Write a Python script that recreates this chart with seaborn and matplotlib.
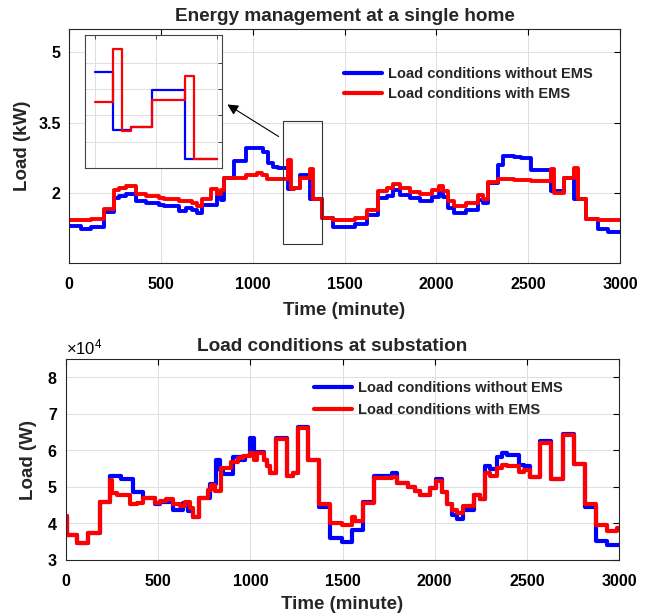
import numpy as np
import pandas as pd
import matplotlib
matplotlib.use("Agg")
import matplotlib.pyplot as plt
import seaborn as sns
from matplotlib.patches import Rectangle
from matplotlib.ticker import FormatStrFormatter

# ---------------- data (step functions: start time of each step, value) -------------
# Single home, kW
home_t_noems = [0, 64, 118, 190, 245, 272, 308, 363, 417, 490, 517, 599, 635, 671, 698, 726,
                806, 826, 844, 898, 935, 962, 1058, 1085, 1112, 1140, 1194, 1224, 1258, 1312,
                1376, 1439, 1557, 1621, 1684, 1730, 1766, 1802, 1857, 1911, 1975, 2016, 2034,
                2062, 2098, 2162, 2225, 2252, 2280, 2334, 2361, 2424, 2461, 2515, 2624, 2697,
                2751, 2815, 2878, 2933, 3000]
home_v_noems = [1.30, 1.23, 1.27, 1.60, 1.89, 1.94, 1.98, 1.82, 1.78, 1.74, 1.71, 1.62, 1.67,
                1.64, 1.57, 1.73, 1.94, 1.85, 2.31, 2.69, 2.67, 2.95, 2.88, 2.64, 2.56, 2.53,
                2.09, 2.11, 2.39, 1.87, 1.46, 1.26, 1.33, 1.53, 1.89, 1.94, 2.05, 1.95, 1.89,
                1.83, 1.92, 1.99, 1.92, 1.68, 1.57, 1.64, 1.84, 1.78, 2.22, 2.60, 2.79, 2.77,
                2.74, 2.48, 2.04, 2.31, 1.86, 1.44, 1.23, 1.17, 1.17]
home_t_ems = [0, 118, 190, 245, 272, 308, 363, 417, 490, 517, 599, 671, 698, 726, 771, 806,
              826, 844, 962, 1022, 1049, 1076, 1194, 1208, 1224, 1258, 1312, 1326, 1376, 1439,
              1557, 1621, 1684, 1730, 1766, 1802, 1857, 1911, 1975, 2016, 2034, 2062, 2098,
              2162, 2225, 2252, 2280, 2334, 2424, 2515, 2624, 2642, 2697, 2751, 2769, 2815,
              2878, 3000]
home_v_ems = [1.41, 1.44, 1.66, 2.06, 2.10, 2.15, 1.98, 1.93, 1.89, 1.86, 1.83, 1.78, 1.71,
              1.87, 2.08, 1.97, 2.07, 2.31, 2.37, 2.43, 2.38, 2.30, 2.70, 2.08, 2.11, 2.32,
              2.50, 1.87, 1.46, 1.41, 1.46, 1.64, 2.03, 2.10, 2.19, 2.10, 2.02, 1.97, 2.06,
              2.14, 2.04, 1.82, 1.71, 1.79, 1.96, 1.87, 2.24, 2.29, 2.27, 2.25, 2.50, 2.00,
              2.31, 2.52, 1.86, 1.44, 1.41, 1.41]

# Zoomed window shown in the inset (minutes)
zoom_window = [1164, 1364]

# Substation, W
sub_t_noems = [0, 7, 58, 121, 184, 238, 301, 365, 419, 482, 509, 581, 635, 662, 690, 722,
               780, 816, 834, 852, 906, 951, 973, 1000, 1018, 1072, 1090, 1108, 1139, 1198,
               1234, 1256, 1315, 1373, 1432, 1496, 1550, 1613, 1672, 1766, 1793, 1856, 1892,
               1919, 1973, 2005, 2041, 2068, 2095, 2122, 2153, 2212, 2248, 2275, 2302, 2338,
               2365, 2392, 2455, 2483, 2515, 2573, 2630, 2695, 2756, 2816, 2874, 2933, 3000]
sub_v_noems = [42000, 36800, 34700, 37500, 45900, 52900, 52100, 48600, 47100, 45200, 46000,
               43800, 45600, 43300, 41700, 47000, 50900, 57400, 54500, 53600, 58300, 57400,
               58500, 63300, 59600, 57400, 55600, 53800, 63300, 53000, 53800, 66500, 57400,
               44500, 36100, 34900, 38100, 45800, 53000, 53800, 51000, 50100, 49000, 47900,
               49700, 52100, 48500, 45200, 42400, 41100, 43600, 47900, 46700, 55600, 54800,
               58100, 59400, 58700, 56000, 55600, 52600, 62500, 52100, 64600, 56300, 44400,
               35200, 34000, 34000]
sub_t_ems = [0, 7, 58, 121, 184, 238, 248, 274, 346, 383, 419, 482, 509, 545, 581, 617, 645,
             672, 690, 722, 771, 789, 807, 843, 897, 933, 960, 1000, 1018, 1036, 1072, 1090,
             1108, 1139, 1198, 1234, 1256, 1315, 1373, 1432, 1496, 1550, 1568, 1613, 1672,
             1766, 1793, 1856, 1892, 1919, 1973, 2005, 2041, 2068, 2095, 2122, 2153, 2212,
             2248, 2275, 2302, 2338, 2365, 2392, 2455, 2483, 2515, 2573, 2630, 2695, 2756,
             2816, 2874, 2933, 2990, 3000]
sub_v_ems = [42000, 36800, 34700, 37500, 45900, 52000, 48300, 47700, 45200, 45600, 47100,
             45600, 46200, 46700, 45200, 44700, 45800, 44300, 41700, 47000, 49200, 50600,
             48800, 55100, 56900, 57800, 58500, 59200, 57400, 59200, 57400, 55600, 53800,
             63000, 53000, 53800, 66000, 57400, 45400, 40200, 39500, 41700, 40800, 45600,
             52400, 52600, 51000, 50100, 49000, 47900, 49700, 51500, 48500, 45200, 43800,
             42900, 44700, 47900, 46700, 53900, 52900, 55100, 56000, 55600, 54200, 54700,
             52600, 62100, 52100, 64200, 56300, 45200, 39500, 37900, 38800, 38800]

lab_noems = "Load conditions without EMS"
lab_ems = "Load conditions with EMS"

# ---------------- style ----------------
sns.set_theme(style="white")
plt.rcParams["font.family"] = ["Liberation Sans", "DejaVu Sans"]
plt.rcParams["font.weight"] = "bold"
plt.rcParams["axes.labelweight"] = "bold"
plt.rcParams["axes.titleweight"] = "bold"
plt.rcParams["mathtext.fontset"] = "custom"
plt.rcParams["mathtext.rm"] = "Liberation Sans"
plt.rcParams["mathtext.default"] = "regular"

BLUE = "#0000ff"
RED = "#ff0000"


def clip_steps(t, v, a, b):
    t = np.asarray(t, float)
    v = np.asarray(v, float)
    i0 = np.searchsorted(t, a, side="right") - 1
    i1 = np.searchsorted(t, b, side="right") - 1
    inner = (t > a) & (t < b)
    return (np.concatenate([[a], t[inner], [b]]),
            np.concatenate([[v[i0]], v[inner], [v[i1]]]))


df_home = pd.concat([
    pd.DataFrame({"t": home_t_noems, "v": home_v_noems, "s": lab_noems}),
    pd.DataFrame({"t": home_t_ems, "v": home_v_ems, "s": lab_ems}),
])
zt1, zv1 = clip_steps(home_t_noems, home_v_noems, *zoom_window)
zt2, zv2 = clip_steps(home_t_ems, home_v_ems, *zoom_window)
df_zoom = pd.concat([
    pd.DataFrame({"t": zt1, "v": zv1, "s": lab_noems}),
    pd.DataFrame({"t": zt2, "v": zv2, "s": lab_ems}),
])
df_sub = pd.concat([
    pd.DataFrame({"t": sub_t_noems, "v": sub_v_noems, "s": lab_noems}),
    pd.DataFrame({"t": sub_t_ems, "v": sub_v_ems, "s": lab_ems}),
])
pal = {lab_noems: BLUE, lab_ems: RED}

W, H = 654, 616
fig = plt.figure(figsize=(W / 100, H / 100), dpi=100)


def fig_axes(l, t, r, b):
    return fig.add_axes([l / W, 1 - b / H, (r - l) / W, (b - t) / H])


def style_ax(ax):
    ax.grid(True, color="#dedede", lw=0.7)
    ax.tick_params(direction="in", top=True, right=True, length=4, width=0.8,
                   labelsize=11.5, colors="black")
    ax.tick_params(axis="x", pad=10)
    ax.tick_params(axis="y", pad=6)
    for sp in ax.spines.values():
        sp.set_color("#262626")
        sp.set_linewidth(0.8)
    for lab in ax.get_xticklabels() + ax.get_yticklabels():
        lab.set_fontweight("bold")


# ---------------- top: single home ----------------
ax1 = fig_axes(69, 29, 620, 263)
sns.lineplot(data=df_home, x="t", y="v", hue="s", palette=pal, drawstyle="steps-post",
             lw=2.8, ax=ax1, legend=False, estimator=None, sort=False)
ax1.set_xlim(0, 3000)
ax1.set_ylim(0.5, 5.5)
ax1.set_xticks(np.arange(0, 3001, 500))
ax1.set_yticks([2, 3.5, 5])
ax1.yaxis.set_major_formatter(FormatStrFormatter("%g"))
style_ax(ax1)
ax1.set_title("Energy management at a single home", fontsize=13.7, pad=6)
ax1.set_xlabel("Time (minute)", fontsize=13.5, labelpad=7)
ax1.set_ylabel("Load (kW)", fontsize=13.5, labelpad=5)
h1 = [plt.Line2D([], [], color=BLUE, lw=3), plt.Line2D([], [], color=RED, lw=3)]
ax1.legend(h1, [lab_noems, lab_ems], loc="center left",
           bbox_to_anchor=((338 - 69) / 551, (263 - 84) / 234), frameon=False,
           prop={"weight": "bold", "size": 10.5}, handlelength=2.6, handletextpad=0.4,
           labelspacing=0.45, borderaxespad=0)
ax1.add_patch(Rectangle((1167, 0.91), 212, 2.62, fill=False, edgecolor="#333333", lw=0.8,
                        zorder=5))
ax1.annotate("", xy=(225, H - 103), xycoords="figure pixels",
             xytext=(281, H - 138), textcoords="figure pixels",
             arrowprops=dict(arrowstyle="-|>", color="black", lw=0.8, mutation_scale=16))

# inset
axi = fig_axes(85, 35, 222, 168)
sns.lineplot(data=df_zoom, x="t", y="v", hue="s", palette=pal, drawstyle="steps-post",
             lw=1.6, ax=axi, legend=False, estimator=None, sort=False)
axi.set_xlim(1148, 1372)
axi.set_ylim(1.8, 2.81)
axi.set_xticks([1164, 1264, 1364])
axi.set_yticks([2.0, 2.2, 2.4, 2.6])
axi.set_xticklabels([])
axi.set_yticklabels([])
axi.set_xlabel("")
axi.set_ylabel("")
axi.grid(True, color="#dedede", lw=0.7)
axi.tick_params(direction="in", top=True, right=True, length=3, width=0.6)
for sp in axi.spines.values():
    sp.set_color("#444444")
    sp.set_linewidth(0.8)

# ---------------- bottom: substation ----------------
ax2 = fig_axes(66, 359, 619, 560)
sns.lineplot(data=df_sub, x="t", y="v", hue="s", palette=pal, drawstyle="steps-post",
             lw=3.0, ax=ax2, legend=False, estimator=None, sort=False)
ax2.set_xlim(0, 3000)
ax2.set_ylim(30000, 85000)
ax2.set_xticks(np.arange(0, 3001, 500))
ax2.set_yticks(np.arange(30000, 80001, 10000))
ax2.ticklabel_format(axis="y", style="sci", scilimits=(4, 4), useMathText=True)
style_ax(ax2)
ax2.yaxis.get_offset_text().set_fontsize(12)
ax2.yaxis.get_offset_text().set_fontweight("normal")
ax2.set_title("Load conditions at substation", fontsize=13.7, pad=6,
              x=(332 - 66) / 553)
ax2.set_xlabel("Time (minute)", fontsize=13.5, labelpad=5)
ax2.set_ylabel("Load (W)", fontsize=13.5, labelpad=7)
h2 = [plt.Line2D([], [], color=BLUE, lw=3), plt.Line2D([], [], color=RED, lw=3)]
ax2.legend(h2, [lab_noems, lab_ems], loc="center left",
           bbox_to_anchor=((308 - 66) / 553, (560 - 399) / 201), frameon=False,
           prop={"weight": "bold", "size": 10.5}, handlelength=2.6, handletextpad=0.4,
           labelspacing=0.5, borderaxespad=0)

fig.savefig("out.png", dpi=100)
